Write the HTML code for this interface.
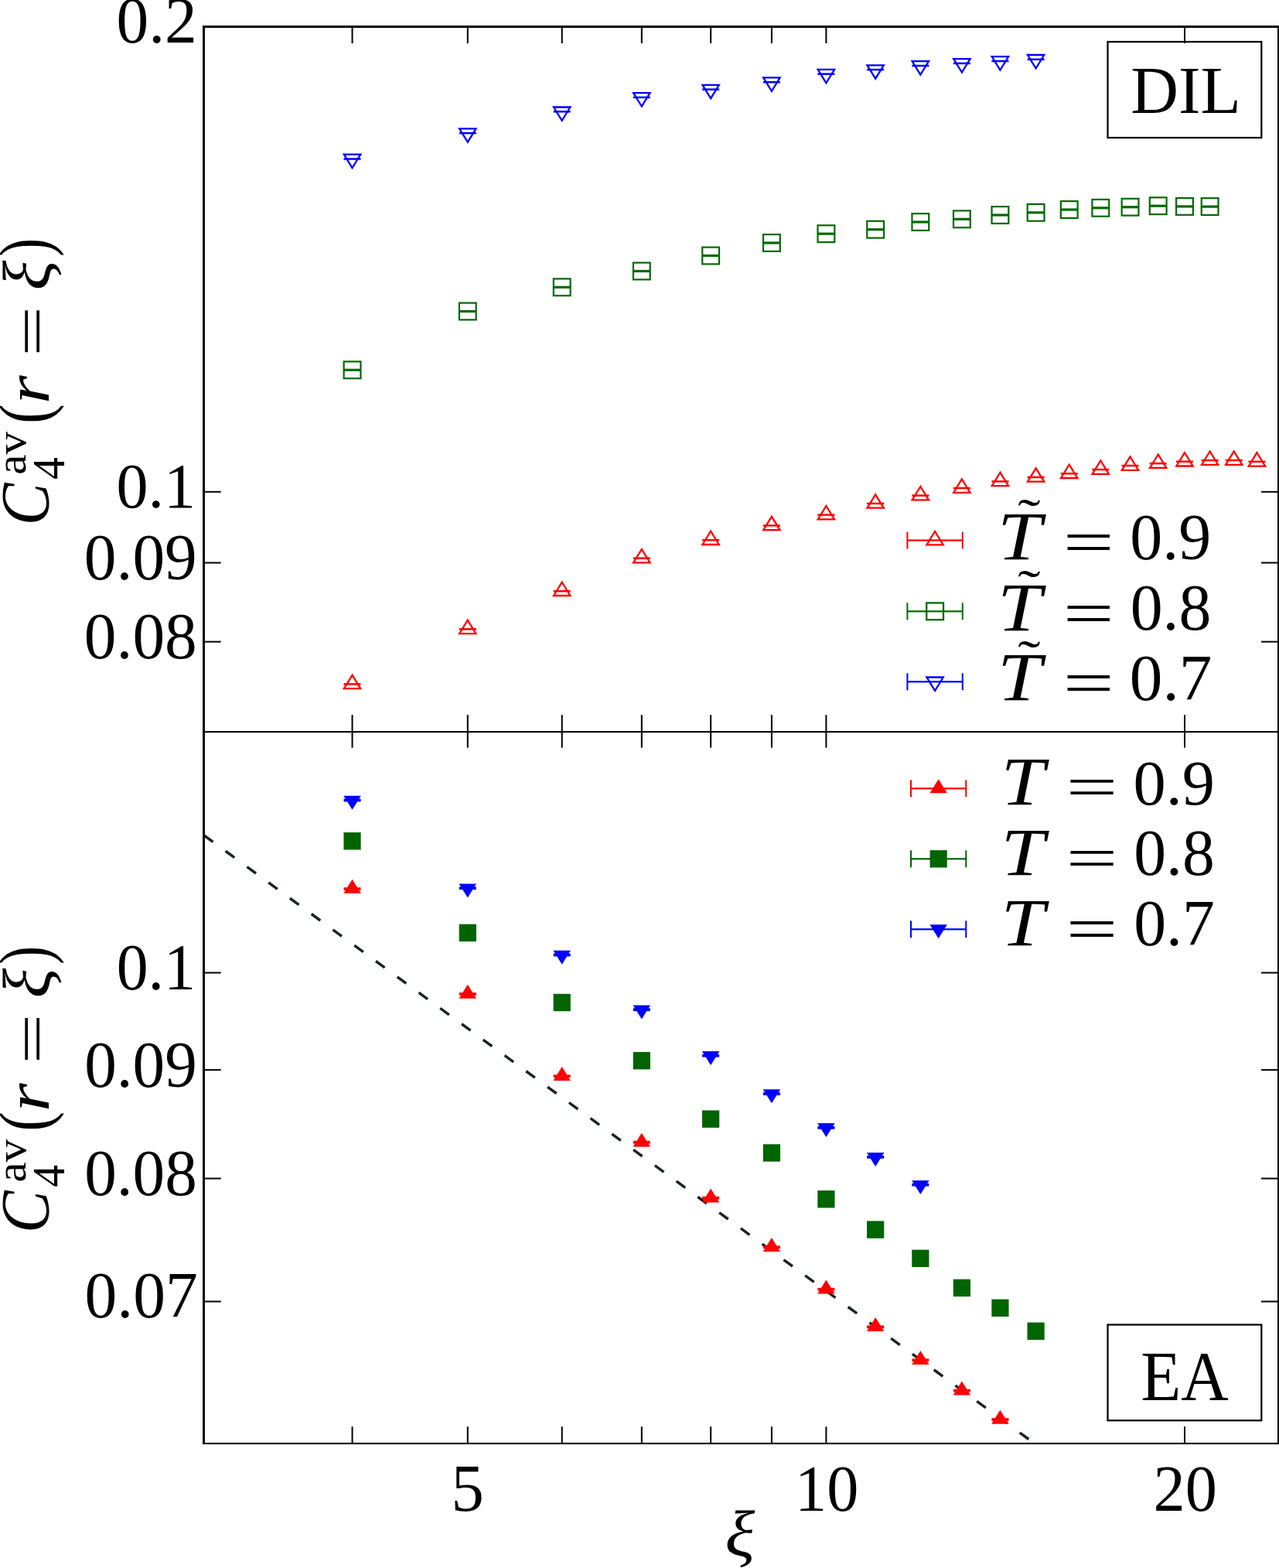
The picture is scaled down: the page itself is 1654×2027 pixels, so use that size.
<!DOCTYPE html>
<html><head><meta charset="utf-8"><title>C4av vs xi</title>
<style>html,body{margin:0;padding:0;background:#fff;overflow:hidden}svg{display:block}</style>
</head><body>
<svg width="1654" height="2027" viewBox="0 0 1654 2027">
<rect x="0" y="0" width="1654" height="2027" fill="#fff"/>
<clipPath id="cb"><rect x="263" y="946" width="1390" height="920"/></clipPath>
<line x1="263.14" y1="1079.35" x2="1342.81" y2="1869.66" stroke="#1b2224" stroke-width="3.5" stroke-dasharray="14.3 20.1" stroke-dashoffset="-1" clip-path="url(#cb)"/>
<rect x="444.65" y="467.40" width="21.8" height="21.8" fill="none" stroke="#006a00" stroke-width="2.2"/>
<rect x="444.65" y="476.70" width="21.8" height="3.2" fill="#006a00"/>
<rect x="593.90" y="391.60" width="21.8" height="21.8" fill="none" stroke="#006a00" stroke-width="2.2"/>
<rect x="593.90" y="400.90" width="21.8" height="3.2" fill="#006a00"/>
<rect x="715.84" y="360.40" width="21.8" height="21.8" fill="none" stroke="#006a00" stroke-width="2.2"/>
<rect x="715.84" y="369.70" width="21.8" height="3.2" fill="#006a00"/>
<rect x="818.94" y="339.60" width="21.8" height="21.8" fill="none" stroke="#006a00" stroke-width="2.2"/>
<rect x="818.94" y="348.90" width="21.8" height="3.2" fill="#006a00"/>
<rect x="908.25" y="319.60" width="21.8" height="21.8" fill="none" stroke="#006a00" stroke-width="2.2"/>
<rect x="908.25" y="328.90" width="21.8" height="3.2" fill="#006a00"/>
<rect x="987.03" y="303.10" width="21.8" height="21.8" fill="none" stroke="#006a00" stroke-width="2.2"/>
<rect x="987.03" y="312.40" width="21.8" height="3.2" fill="#006a00"/>
<rect x="1057.50" y="291.30" width="21.8" height="21.8" fill="none" stroke="#006a00" stroke-width="2.2"/>
<rect x="1057.50" y="300.60" width="21.8" height="3.2" fill="#006a00"/>
<rect x="1121.25" y="285.80" width="21.8" height="21.8" fill="none" stroke="#006a00" stroke-width="2.2"/>
<rect x="1121.25" y="295.10" width="21.8" height="3.2" fill="#006a00"/>
<rect x="1179.44" y="276.10" width="21.8" height="21.8" fill="none" stroke="#006a00" stroke-width="2.2"/>
<rect x="1179.44" y="285.40" width="21.8" height="3.2" fill="#006a00"/>
<rect x="1232.98" y="272.40" width="21.8" height="21.8" fill="none" stroke="#006a00" stroke-width="2.2"/>
<rect x="1232.98" y="281.70" width="21.8" height="3.2" fill="#006a00"/>
<rect x="1282.54" y="267.10" width="21.8" height="21.8" fill="none" stroke="#006a00" stroke-width="2.2"/>
<rect x="1282.54" y="276.40" width="21.8" height="3.2" fill="#006a00"/>
<rect x="1328.69" y="263.90" width="21.8" height="21.8" fill="none" stroke="#006a00" stroke-width="2.2"/>
<rect x="1328.69" y="273.20" width="21.8" height="3.2" fill="#006a00"/>
<rect x="1371.85" y="260.10" width="21.8" height="21.8" fill="none" stroke="#006a00" stroke-width="2.2"/>
<rect x="1371.85" y="269.40" width="21.8" height="3.2" fill="#006a00"/>
<rect x="1412.40" y="257.90" width="21.8" height="21.8" fill="none" stroke="#006a00" stroke-width="2.2"/>
<rect x="1412.40" y="267.20" width="21.8" height="3.2" fill="#006a00"/>
<rect x="1450.63" y="256.80" width="21.8" height="21.8" fill="none" stroke="#006a00" stroke-width="2.2"/>
<rect x="1450.63" y="266.10" width="21.8" height="3.2" fill="#006a00"/>
<rect x="1486.79" y="255.30" width="21.8" height="21.8" fill="none" stroke="#006a00" stroke-width="2.2"/>
<rect x="1486.79" y="264.60" width="21.8" height="3.2" fill="#006a00"/>
<rect x="1521.10" y="256.00" width="21.8" height="21.8" fill="none" stroke="#006a00" stroke-width="2.2"/>
<rect x="1521.10" y="265.30" width="21.8" height="3.2" fill="#006a00"/>
<rect x="1553.73" y="256.20" width="21.8" height="21.8" fill="none" stroke="#006a00" stroke-width="2.2"/>
<rect x="1553.73" y="265.50" width="21.8" height="3.2" fill="#006a00"/>
<polygon points="455.55,872.80 444.85,890.20 466.25,890.20" fill="none" stroke="#ff0000" stroke-width="2.3" stroke-miterlimit="10"/>
<rect x="444.55" y="883.15" width="22.0" height="2.5" fill="#ff0000"/>
<polygon points="604.80,801.70 594.10,819.10 615.50,819.10" fill="none" stroke="#ff0000" stroke-width="2.3" stroke-miterlimit="10"/>
<rect x="593.80" y="812.05" width="22.0" height="2.5" fill="#ff0000"/>
<polygon points="726.74,752.60 716.04,770.00 737.44,770.00" fill="none" stroke="#ff0000" stroke-width="2.3" stroke-miterlimit="10"/>
<rect x="715.74" y="762.95" width="22.0" height="2.5" fill="#ff0000"/>
<polygon points="829.84,710.00 819.14,727.40 840.54,727.40" fill="none" stroke="#ff0000" stroke-width="2.3" stroke-miterlimit="10"/>
<rect x="818.84" y="720.35" width="22.0" height="2.5" fill="#ff0000"/>
<polygon points="919.15,686.60 908.45,704.00 929.85,704.00" fill="none" stroke="#ff0000" stroke-width="2.3" stroke-miterlimit="10"/>
<rect x="908.15" y="696.95" width="22.0" height="2.5" fill="#ff0000"/>
<polygon points="997.93,667.80 987.23,685.20 1008.63,685.20" fill="none" stroke="#ff0000" stroke-width="2.3" stroke-miterlimit="10"/>
<rect x="986.93" y="678.15" width="22.0" height="2.5" fill="#ff0000"/>
<polygon points="1068.40,654.00 1057.70,671.40 1079.10,671.40" fill="none" stroke="#ff0000" stroke-width="2.3" stroke-miterlimit="10"/>
<rect x="1057.40" y="664.35" width="22.0" height="2.5" fill="#ff0000"/>
<polygon points="1132.15,639.30 1121.45,656.70 1142.85,656.70" fill="none" stroke="#ff0000" stroke-width="2.3" stroke-miterlimit="10"/>
<rect x="1121.15" y="649.65" width="22.0" height="2.5" fill="#ff0000"/>
<polygon points="1190.34,629.00 1179.64,646.40 1201.04,646.40" fill="none" stroke="#ff0000" stroke-width="2.3" stroke-miterlimit="10"/>
<rect x="1179.34" y="639.35" width="22.0" height="2.5" fill="#ff0000"/>
<polygon points="1243.88,619.40 1233.18,636.80 1254.58,636.80" fill="none" stroke="#ff0000" stroke-width="2.3" stroke-miterlimit="10"/>
<rect x="1232.88" y="629.75" width="22.0" height="2.5" fill="#ff0000"/>
<polygon points="1293.44,610.80 1282.74,628.20 1304.14,628.20" fill="none" stroke="#ff0000" stroke-width="2.3" stroke-miterlimit="10"/>
<rect x="1282.44" y="621.15" width="22.0" height="2.5" fill="#ff0000"/>
<polygon points="1339.59,605.30 1328.89,622.70 1350.29,622.70" fill="none" stroke="#ff0000" stroke-width="2.3" stroke-miterlimit="10"/>
<rect x="1328.59" y="615.65" width="22.0" height="2.5" fill="#ff0000"/>
<polygon points="1382.75,600.60 1372.05,618.00 1393.45,618.00" fill="none" stroke="#ff0000" stroke-width="2.3" stroke-miterlimit="10"/>
<rect x="1371.75" y="610.95" width="22.0" height="2.5" fill="#ff0000"/>
<polygon points="1423.30,595.40 1412.60,612.80 1434.00,612.80" fill="none" stroke="#ff0000" stroke-width="2.3" stroke-miterlimit="10"/>
<rect x="1412.30" y="605.75" width="22.0" height="2.5" fill="#ff0000"/>
<polygon points="1461.53,590.40 1450.83,607.80 1472.23,607.80" fill="none" stroke="#ff0000" stroke-width="2.3" stroke-miterlimit="10"/>
<rect x="1450.53" y="600.75" width="22.0" height="2.5" fill="#ff0000"/>
<polygon points="1497.69,587.50 1486.99,604.90 1508.39,604.90" fill="none" stroke="#ff0000" stroke-width="2.3" stroke-miterlimit="10"/>
<rect x="1486.69" y="597.85" width="22.0" height="2.5" fill="#ff0000"/>
<polygon points="1532.00,585.10 1521.30,602.50 1542.70,602.50" fill="none" stroke="#ff0000" stroke-width="2.3" stroke-miterlimit="10"/>
<rect x="1521.00" y="595.45" width="22.0" height="2.5" fill="#ff0000"/>
<polygon points="1564.63,583.50 1553.93,600.90 1575.33,600.90" fill="none" stroke="#ff0000" stroke-width="2.3" stroke-miterlimit="10"/>
<rect x="1553.63" y="593.85" width="22.0" height="2.5" fill="#ff0000"/>
<polygon points="1595.75,583.40 1585.05,600.80 1606.45,600.80" fill="none" stroke="#ff0000" stroke-width="2.3" stroke-miterlimit="10"/>
<rect x="1584.75" y="593.75" width="22.0" height="2.5" fill="#ff0000"/>
<polygon points="1625.48,585.20 1614.78,602.60 1636.18,602.60" fill="none" stroke="#ff0000" stroke-width="2.3" stroke-miterlimit="10"/>
<rect x="1614.48" y="595.55" width="22.0" height="2.5" fill="#ff0000"/>
<polygon points="455.55,217.10 444.85,199.70 466.25,199.70" fill="none" stroke="#0000ff" stroke-width="2.3" stroke-miterlimit="10"/>
<rect x="444.55" y="204.25" width="22.0" height="2.5" fill="#0000ff"/>
<polygon points="604.80,183.70 594.10,166.30 615.50,166.30" fill="none" stroke="#0000ff" stroke-width="2.3" stroke-miterlimit="10"/>
<rect x="593.80" y="170.85" width="22.0" height="2.5" fill="#0000ff"/>
<polygon points="726.74,155.90 716.04,138.50 737.44,138.50" fill="none" stroke="#0000ff" stroke-width="2.3" stroke-miterlimit="10"/>
<rect x="715.74" y="143.05" width="22.0" height="2.5" fill="#0000ff"/>
<polygon points="829.84,137.50 819.14,120.10 840.54,120.10" fill="none" stroke="#0000ff" stroke-width="2.3" stroke-miterlimit="10"/>
<rect x="818.84" y="124.65" width="22.0" height="2.5" fill="#0000ff"/>
<polygon points="919.15,127.20 908.45,109.80 929.85,109.80" fill="none" stroke="#0000ff" stroke-width="2.3" stroke-miterlimit="10"/>
<rect x="908.15" y="114.35" width="22.0" height="2.5" fill="#0000ff"/>
<polygon points="997.93,117.80 987.23,100.40 1008.63,100.40" fill="none" stroke="#0000ff" stroke-width="2.3" stroke-miterlimit="10"/>
<rect x="986.93" y="104.95" width="22.0" height="2.5" fill="#0000ff"/>
<polygon points="1068.40,107.30 1057.70,89.90 1079.10,89.90" fill="none" stroke="#0000ff" stroke-width="2.3" stroke-miterlimit="10"/>
<rect x="1057.40" y="94.45" width="22.0" height="2.5" fill="#0000ff"/>
<polygon points="1132.15,101.70 1121.45,84.30 1142.85,84.30" fill="none" stroke="#0000ff" stroke-width="2.3" stroke-miterlimit="10"/>
<rect x="1121.15" y="88.85" width="22.0" height="2.5" fill="#0000ff"/>
<polygon points="1190.34,96.60 1179.64,79.20 1201.04,79.20" fill="none" stroke="#0000ff" stroke-width="2.3" stroke-miterlimit="10"/>
<rect x="1179.34" y="83.75" width="22.0" height="2.5" fill="#0000ff"/>
<polygon points="1243.88,93.50 1233.18,76.10 1254.58,76.10" fill="none" stroke="#0000ff" stroke-width="2.3" stroke-miterlimit="10"/>
<rect x="1232.88" y="80.65" width="22.0" height="2.5" fill="#0000ff"/>
<polygon points="1293.44,90.60 1282.74,73.20 1304.14,73.20" fill="none" stroke="#0000ff" stroke-width="2.3" stroke-miterlimit="10"/>
<rect x="1282.44" y="77.75" width="22.0" height="2.5" fill="#0000ff"/>
<polygon points="1339.59,88.40 1328.89,71.00 1350.29,71.00" fill="none" stroke="#0000ff" stroke-width="2.3" stroke-miterlimit="10"/>
<rect x="1328.59" y="75.55" width="22.0" height="2.5" fill="#0000ff"/>
<rect x="444.45" y="1076.10" width="22.2" height="22.4" fill="#006400"/>
<rect x="593.70" y="1194.70" width="22.2" height="22.4" fill="#006400"/>
<rect x="715.64" y="1284.80" width="22.2" height="22.4" fill="#006400"/>
<rect x="818.74" y="1360.00" width="22.2" height="22.4" fill="#006400"/>
<rect x="908.05" y="1435.40" width="22.2" height="22.4" fill="#006400"/>
<rect x="986.83" y="1479.20" width="22.2" height="22.4" fill="#006400"/>
<rect x="1057.30" y="1539.00" width="22.2" height="22.4" fill="#006400"/>
<rect x="1121.05" y="1578.40" width="22.2" height="22.4" fill="#006400"/>
<rect x="1179.24" y="1615.60" width="22.2" height="22.4" fill="#006400"/>
<rect x="1232.78" y="1653.70" width="22.2" height="22.4" fill="#006400"/>
<rect x="1282.34" y="1679.60" width="22.2" height="22.4" fill="#006400"/>
<rect x="1328.49" y="1709.60" width="22.2" height="22.4" fill="#006400"/>
<polygon points="455.55,1136.80 444.35,1154.80 466.75,1154.80" fill="#ff0000"/>
<rect x="444.55" y="1147.20" width="22.0" height="3.8" fill="#ff0000"/>
<polygon points="604.80,1272.70 593.60,1290.70 616.00,1290.70" fill="#ff0000"/>
<rect x="593.80" y="1283.10" width="22.0" height="3.8" fill="#ff0000"/>
<polygon points="726.74,1378.90 715.54,1396.90 737.94,1396.90" fill="#ff0000"/>
<rect x="715.74" y="1389.30" width="22.0" height="3.8" fill="#ff0000"/>
<polygon points="829.84,1464.40 818.64,1482.40 841.04,1482.40" fill="#ff0000"/>
<rect x="818.84" y="1474.80" width="22.0" height="3.8" fill="#ff0000"/>
<polygon points="919.15,1536.40 907.95,1554.40 930.35,1554.40" fill="#ff0000"/>
<rect x="908.15" y="1546.80" width="22.0" height="3.8" fill="#ff0000"/>
<polygon points="997.93,1600.00 986.73,1618.00 1009.13,1618.00" fill="#ff0000"/>
<rect x="986.93" y="1610.40" width="22.0" height="3.8" fill="#ff0000"/>
<polygon points="1068.40,1654.50 1057.20,1672.50 1079.60,1672.50" fill="#ff0000"/>
<rect x="1057.40" y="1664.90" width="22.0" height="3.8" fill="#ff0000"/>
<polygon points="1132.15,1703.00 1120.95,1721.00 1143.35,1721.00" fill="#ff0000"/>
<rect x="1121.15" y="1713.40" width="22.0" height="3.8" fill="#ff0000"/>
<polygon points="1190.34,1746.00 1179.14,1764.00 1201.54,1764.00" fill="#ff0000"/>
<rect x="1179.34" y="1756.40" width="22.0" height="3.8" fill="#ff0000"/>
<polygon points="1243.88,1785.40 1232.68,1803.40 1255.08,1803.40" fill="#ff0000"/>
<rect x="1232.88" y="1795.80" width="22.0" height="3.8" fill="#ff0000"/>
<polygon points="1293.44,1822.80 1282.24,1840.80 1304.64,1840.80" fill="#ff0000"/>
<rect x="1282.44" y="1833.20" width="22.0" height="3.8" fill="#ff0000"/>
<polygon points="455.55,1046.80 444.35,1028.80 466.75,1028.80" fill="#0000ff"/>
<rect x="444.55" y="1032.60" width="22.0" height="3.8" fill="#0000ff"/>
<polygon points="604.80,1160.50 593.60,1142.50 616.00,1142.50" fill="#0000ff"/>
<rect x="593.80" y="1146.30" width="22.0" height="3.8" fill="#0000ff"/>
<polygon points="726.74,1246.80 715.54,1228.80 737.94,1228.80" fill="#0000ff"/>
<rect x="715.74" y="1232.60" width="22.0" height="3.8" fill="#0000ff"/>
<polygon points="829.84,1317.50 818.64,1299.50 841.04,1299.50" fill="#0000ff"/>
<rect x="818.84" y="1303.30" width="22.0" height="3.8" fill="#0000ff"/>
<polygon points="919.15,1377.00 907.95,1359.00 930.35,1359.00" fill="#0000ff"/>
<rect x="908.15" y="1362.80" width="22.0" height="3.8" fill="#0000ff"/>
<polygon points="997.93,1426.30 986.73,1408.30 1009.13,1408.30" fill="#0000ff"/>
<rect x="986.93" y="1412.10" width="22.0" height="3.8" fill="#0000ff"/>
<polygon points="1068.40,1470.10 1057.20,1452.10 1079.60,1452.10" fill="#0000ff"/>
<rect x="1057.40" y="1455.90" width="22.0" height="3.8" fill="#0000ff"/>
<polygon points="1132.15,1508.10 1120.95,1490.10 1143.35,1490.10" fill="#0000ff"/>
<rect x="1121.15" y="1493.90" width="22.0" height="3.8" fill="#0000ff"/>
<polygon points="1190.34,1543.90 1179.14,1525.90 1201.54,1525.90" fill="#0000ff"/>
<rect x="1179.34" y="1529.70" width="22.0" height="3.8" fill="#0000ff"/>
<rect x="1173.40" y="697.40" width="71.40" height="2.2" fill="#ff0000"/><rect x="1172.40" y="687.50" width="2" height="22" fill="#ff0000"/><rect x="1243.80" y="687.50" width="2" height="22" fill="#ff0000"/><polygon points="1209.10,686.90 1198.40,704.30 1219.80,704.30" fill="none" stroke="#ff0000" stroke-width="2.3" stroke-miterlimit="10"/>
<rect x="1173.40" y="789.20" width="71.40" height="2.2" fill="#006a00"/><rect x="1172.40" y="779.30" width="2" height="22" fill="#006a00"/><rect x="1243.80" y="779.30" width="2" height="22" fill="#006a00"/><rect x="1198.20" y="779.40" width="21.8" height="21.8" fill="none" stroke="#006a00" stroke-width="2.3"/>
<rect x="1173.40" y="880.20" width="71.40" height="2.2" fill="#0000ff"/><rect x="1172.40" y="870.30" width="2" height="22" fill="#0000ff"/><rect x="1243.80" y="870.30" width="2" height="22" fill="#0000ff"/><polygon points="1209.10,892.90 1198.40,875.50 1219.80,875.50" fill="none" stroke="#0000ff" stroke-width="2.3" stroke-miterlimit="10"/>
<rect x="1178.00" y="1018.20" width="71.30" height="2.2" fill="#ff0000"/><rect x="1177.00" y="1008.30" width="2" height="22" fill="#ff0000"/><rect x="1248.30" y="1008.30" width="2" height="22" fill="#ff0000"/><polygon points="1213.65,1007.30 1202.45,1025.30 1224.85,1025.30" fill="#ff0000"/>
<rect x="1178.00" y="1109.20" width="71.30" height="2.2" fill="#006400"/><rect x="1177.00" y="1099.30" width="2" height="22" fill="#006400"/><rect x="1248.30" y="1099.30" width="2" height="22" fill="#006400"/><rect x="1202.55" y="1099.10" width="22.2" height="22.4" fill="#006400"/>
<rect x="1178.00" y="1200.20" width="71.30" height="2.2" fill="#0000ff"/><rect x="1177.00" y="1190.30" width="2" height="22" fill="#0000ff"/><rect x="1248.30" y="1190.30" width="2" height="22" fill="#0000ff"/><polygon points="1213.65,1213.30 1202.45,1195.30 1224.85,1195.30" fill="#0000ff"/>
<rect x="1432.5" y="54" width="198.8" height="124" fill="#fff" stroke="#000" stroke-width="2.2"/>
<rect x="1432.5" y="1712.5" width="198.8" height="123.8" fill="#fff" stroke="#000" stroke-width="2.2"/>
<rect x="454.55" y="34" width="2" height="22" fill="#000"/>
<rect x="454.55" y="924.2" width="2" height="42.4" fill="#000"/>
<rect x="454.55" y="1844.2" width="2" height="22" fill="#000"/>
<rect x="603.80" y="34" width="2" height="22" fill="#000"/>
<rect x="603.80" y="924.2" width="2" height="42.4" fill="#000"/>
<rect x="603.80" y="1844.2" width="2" height="22" fill="#000"/>
<rect x="725.74" y="34" width="2" height="22" fill="#000"/>
<rect x="725.74" y="924.2" width="2" height="42.4" fill="#000"/>
<rect x="725.74" y="1844.2" width="2" height="22" fill="#000"/>
<rect x="828.84" y="34" width="2" height="22" fill="#000"/>
<rect x="828.84" y="924.2" width="2" height="42.4" fill="#000"/>
<rect x="828.84" y="1844.2" width="2" height="22" fill="#000"/>
<rect x="918.15" y="34" width="2" height="22" fill="#000"/>
<rect x="918.15" y="924.2" width="2" height="42.4" fill="#000"/>
<rect x="918.15" y="1844.2" width="2" height="22" fill="#000"/>
<rect x="996.93" y="34" width="2" height="22" fill="#000"/>
<rect x="996.93" y="924.2" width="2" height="42.4" fill="#000"/>
<rect x="996.93" y="1844.2" width="2" height="22" fill="#000"/>
<rect x="1067.40" y="34" width="2" height="22" fill="#000"/>
<rect x="1067.40" y="924.2" width="2" height="42.4" fill="#000"/>
<rect x="1067.40" y="1844.2" width="2" height="22" fill="#000"/>
<rect x="1531.00" y="34" width="2" height="22" fill="#000"/>
<rect x="1531.00" y="924.2" width="2" height="42.4" fill="#000"/>
<rect x="1531.00" y="1844.2" width="2" height="22" fill="#000"/>
<rect x="263" y="634.80" width="22.7" height="2" fill="#000"/>
<rect x="1631" y="634.80" width="22" height="2" fill="#000"/>
<rect x="263" y="726.50" width="22.7" height="2" fill="#000"/>
<rect x="1631" y="726.50" width="22" height="2" fill="#000"/>
<rect x="263" y="828.60" width="22.7" height="2" fill="#000"/>
<rect x="1631" y="828.60" width="22" height="2" fill="#000"/>
<rect x="263" y="1256.50" width="22.7" height="2" fill="#000"/>
<rect x="1631" y="1256.50" width="22" height="2" fill="#000"/>
<rect x="263" y="1382.10" width="22.7" height="2" fill="#000"/>
<rect x="1631" y="1382.10" width="22" height="2" fill="#000"/>
<rect x="263" y="1522.50" width="22.7" height="2" fill="#000"/>
<rect x="1631" y="1522.50" width="22" height="2" fill="#000"/>
<rect x="263" y="1681.50" width="22.7" height="2" fill="#000"/>
<rect x="1631" y="1681.50" width="22" height="2" fill="#000"/>
<rect x="262" y="33" width="3" height="1834" fill="#000"/>
<rect x="262" y="33" width="1392" height="3" fill="#000"/>
<rect x="262" y="945" width="1392" height="2.1" fill="#000"/>
<rect x="262" y="1865" width="1392" height="2.1" fill="#000"/>
<rect x="1652" y="33" width="2.2" height="1834" fill="#000"/>
<g font-family="Liberation Serif, serif" font-size="100" fill="#000">
<text transform="translate(150.46 54.93) scale(0.8346 0.8441)">0.2</text>
<text transform="translate(150.42 655.95) scale(0.8209 0.8309)">0.1</text>
<text transform="translate(108.87 748.73) scale(0.8335 0.8485)">0.09</text>
<text transform="translate(108.87 850.74) scale(0.8335 0.8397)">0.08</text>
<text transform="translate(150.63 1278.74) scale(0.8183 0.8382)">0.1</text>
<text transform="translate(109.17 1404.72) scale(0.8323 0.8500)">0.09</text>
<text transform="translate(109.17 1544.72) scale(0.8323 0.8529)">0.08</text>
<text transform="translate(109.56 1703.13) scale(0.8351 0.8485)">0.07</text>
<text transform="translate(583.51 1953.04) scale(0.8475 0.8647)">5</text>
<text transform="translate(1027.99 1952.66) scale(0.8230 0.8370)">10</text>
<text transform="translate(1491.50 1953.16) scale(0.8230 0.8444)">20</text>
<text transform="translate(937.44 2010.82) scale(0.9026 0.8391)" font-style="italic">ξ</text>
<text transform="translate(1462.33 145.90) scale(0.8552 0.8672)">DIL</text>
<text transform="translate(1475.34 1809.90) scale(0.8517 0.9160)">EA</text>
<text transform="translate(1290.06 722.90) scale(1.0218 0.8846)" font-style="italic">T</text>
<text transform="translate(1316.32 690.13) scale(0.8794 0.6538)">˜</text>
<text transform="translate(1374.85 727.92) scale(1.1699 0.7960)">=</text>
<text transform="translate(1290.06 814.50) scale(1.0218 0.8846)" font-style="italic">T</text>
<text transform="translate(1316.32 781.73) scale(0.8794 0.6538)">˜</text>
<text transform="translate(1374.85 819.52) scale(1.1699 0.7960)">=</text>
<text transform="translate(1290.06 905.30) scale(1.0218 0.8846)" font-style="italic">T</text>
<text transform="translate(1316.32 872.53) scale(0.8794 0.6538)">˜</text>
<text transform="translate(1374.85 910.32) scale(1.1699 0.7960)">=</text>
<text transform="translate(1461.34 723.02) scale(0.8402 0.8529)">0.9</text>
<text transform="translate(1461.65 814.04) scale(0.8376 0.8412)">0.8</text>
<text transform="translate(1460.79 904.94) scale(0.8534 0.8412)">0.7</text>
<text transform="translate(1294.42 1040.30) scale(1.0127 0.8800)" font-style="italic">T</text>
<text transform="translate(1378.56 1043.02) scale(1.1871 0.7520)">=</text>
<text transform="translate(1465.42 1039.85) scale(0.8444 0.8324)">0.9</text>
<text transform="translate(1294.42 1130.80) scale(1.0127 0.8769)" font-style="italic">T</text>
<text transform="translate(1378.56 1135.04) scale(1.1871 0.7680)">=</text>
<text transform="translate(1466.25 1131.33) scale(0.8368 0.8485)">0.8</text>
<text transform="translate(1294.42 1221.60) scale(1.0127 0.8708)" font-style="italic">T</text>
<text transform="translate(1378.56 1226.79) scale(1.1871 0.7800)">=</text>
<text transform="translate(1466.25 1222.04) scale(0.8373 0.8412)">0.7</text>
<text transform="translate(62.30 679.31) rotate(-90) scale(0.8194 0.8970)" font-style="italic">C</text>
<text transform="translate(32.65 613.67) rotate(-90) scale(0.5923 0.5453)">av</text>
<text transform="translate(83.19 620.06) rotate(-90) scale(0.5806 0.5892)">4</text>
<text transform="translate(63.44 547.66) rotate(-90) scale(0.7686 0.9267)">(</text>
<text transform="translate(62.60 522.08) rotate(-90) scale(0.9457 0.8022)" font-style="italic">r</text>
<text transform="translate(66.13 460.90) rotate(-90) scale(1.1591 0.7480)">=</text>
<text transform="translate(63.77 375.36) rotate(-90) scale(0.9026 0.8586)" font-style="italic">ξ</text>
<text transform="translate(63.44 331.85) rotate(-90) scale(0.7154 0.9267)">)</text>
<text transform="translate(62.30 1594.11) rotate(-90) scale(0.8194 0.8970)" font-style="italic">C</text>
<text transform="translate(32.65 1528.47) rotate(-90) scale(0.5923 0.5453)">av</text>
<text transform="translate(83.19 1534.86) rotate(-90) scale(0.5806 0.5892)">4</text>
<text transform="translate(63.44 1462.46) rotate(-90) scale(0.7686 0.9267)">(</text>
<text transform="translate(62.60 1436.88) rotate(-90) scale(0.9457 0.8022)" font-style="italic">r</text>
<text transform="translate(66.13 1375.70) rotate(-90) scale(1.1591 0.7480)">=</text>
<text transform="translate(63.77 1290.16) rotate(-90) scale(0.9026 0.8586)" font-style="italic">ξ</text>
<text transform="translate(63.44 1246.65) rotate(-90) scale(0.7154 0.9267)">)</text>
</g>
</svg>
</body></html>
